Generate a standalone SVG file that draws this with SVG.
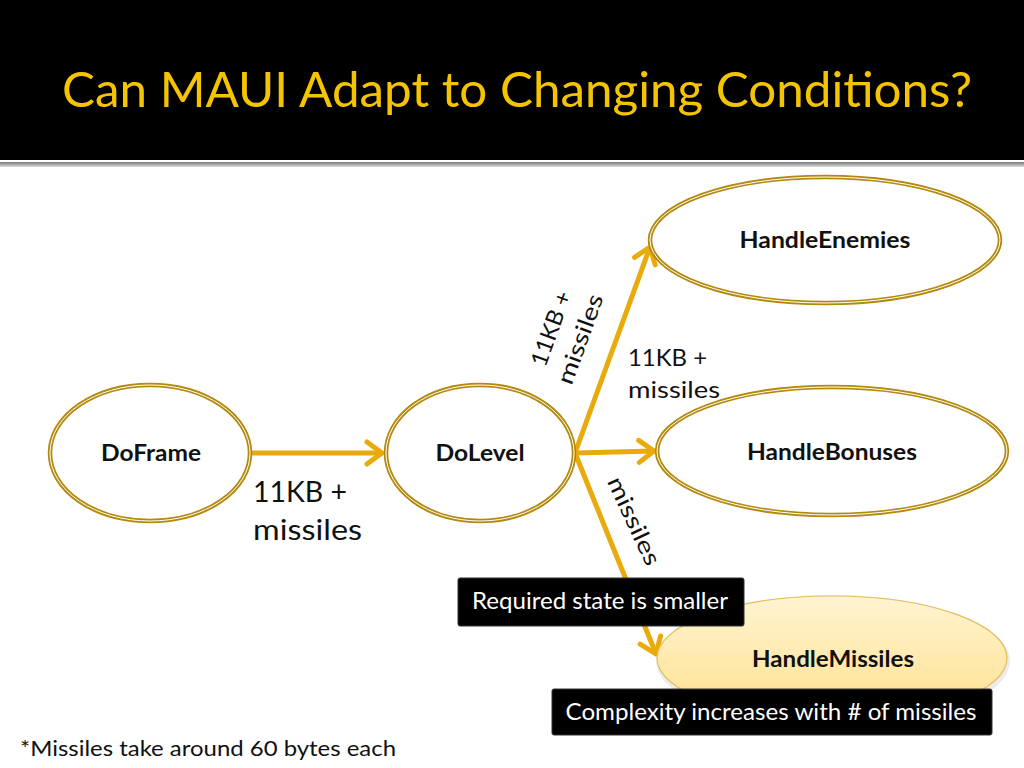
<svg xmlns="http://www.w3.org/2000/svg" width="1024" height="768" viewBox="0 0 1024 768">
<defs>
<style>
.node{fill:#fff;stroke:#B38A0E;stroke-width:4.5}
.inner{fill:none;stroke:#fff;stroke-width:1}
.ntext{font-family:Lato,"Open Sans",sans-serif;font-weight:bold;font-size:23px;fill:#111;text-anchor:middle}
.lbl{font-family:Lato,"Open Sans",sans-serif;fill:#111}
.conn{stroke:#E9AA0B;stroke-width:5;fill:none;marker-end:url(#arr)}
.box{fill:#000;stroke:#333;stroke-width:1}
.btext{font-family:Lato,"Open Sans",sans-serif;font-size:23px;fill:#fff;text-anchor:middle}
</style>
<marker id="arr" viewBox="0 0 30 30" refX="26" refY="15" markerWidth="30" markerHeight="30" markerUnits="userSpaceOnUse" orient="auto">
<path d="M11,4 L26,15 L11,26" fill="none" stroke="#E9AA0B" stroke-width="5" stroke-linecap="round" stroke-linejoin="round"/>
</marker>
<linearGradient id="mg" x1="0" y1="0" x2="0" y2="1">
<stop offset="0" stop-color="#FFF4D2"/>
<stop offset="1" stop-color="#FFE08C"/>
</linearGradient>
<linearGradient id="hl" x1="0" y1="0" x2="0" y2="1">
<stop offset="0" stop-color="#777"/>
<stop offset="1" stop-color="#ddd"/>
</linearGradient>
</defs>
<rect x="0" y="0" width="1024" height="768" fill="#fff"/>
<g id="header">
<rect x="0" y="0" width="1024" height="160" fill="#000"/>
<rect x="0" y="162" width="1024" height="5" fill="url(#hl)"/>
<text x="62" y="107" font-family="Lato,'Open Sans',sans-serif" font-size="48" fill="#F5C400" textLength="910" lengthAdjust="spacingAndGlyphs">Can MAUI Adapt to Changing Conditions?</text>
</g>
<g id="connectors">
<line class="conn" x1="251" y1="453" x2="382" y2="453"/>
<line class="conn" x1="575" y1="453" x2="650" y2="247"/>
<line class="conn" x1="575" y1="453" x2="654" y2="451"/>
<line class="conn" x1="575" y1="453" x2="656" y2="654"/>
</g>
<g id="DoFrame">
<ellipse class="node" cx="150" cy="453" rx="100" ry="68"/>
<ellipse class="inner" cx="150" cy="453" rx="100" ry="68"/>
<text class="ntext" x="151" y="461" textLength="100" lengthAdjust="spacingAndGlyphs">DoFrame</text>
</g>
<g id="DoLevel">
<ellipse class="node" cx="480" cy="453" rx="94" ry="68"/>
<ellipse class="inner" cx="480" cy="453" rx="94" ry="68"/>
<text class="ntext" x="480" y="461" textLength="89" lengthAdjust="spacingAndGlyphs">DoLevel</text>
</g>
<g id="HandleEnemies">
<ellipse class="node" cx="825" cy="240" rx="175" ry="63"/>
<ellipse class="inner" cx="825" cy="240" rx="175" ry="63"/>
<text class="ntext" x="825" y="248" textLength="171" lengthAdjust="spacingAndGlyphs">HandleEnemies</text>
</g>
<g id="HandleBonuses">
<ellipse class="node" cx="832" cy="451" rx="175" ry="64"/>
<ellipse class="inner" cx="832" cy="451" rx="175" ry="64"/>
<text class="ntext" x="832" y="460" textLength="170" lengthAdjust="spacingAndGlyphs">HandleBonuses</text>
</g>
<g id="HandleMissiles">
<ellipse cx="833" cy="661" rx="177" ry="66" fill="#000" opacity="0.08"/>
<ellipse cx="832" cy="658" rx="175" ry="62" fill="url(#mg)" stroke="#E6BE5A" stroke-width="1.2"/>
<text class="ntext" x="833" y="667" textLength="162" lengthAdjust="spacingAndGlyphs">HandleMissiles</text>
</g>
<g id="labels">
<text class="lbl" font-size="28" x="253" y="502" textLength="94" lengthAdjust="spacingAndGlyphs">11KB +</text>
<text class="lbl" font-size="28" x="253" y="540" textLength="109" lengthAdjust="spacingAndGlyphs">missiles</text>
<text class="lbl" font-size="23" x="628" y="366" textLength="79" lengthAdjust="spacingAndGlyphs">11KB +</text>
<text class="lbl" font-size="23" x="628" y="398" textLength="92" lengthAdjust="spacingAndGlyphs">missiles</text>
<g transform="translate(566,334) rotate(-70)">
<text class="lbl" font-size="23" x="0" y="-8" text-anchor="middle" textLength="78" lengthAdjust="spacingAndGlyphs">11KB +</text>
<text class="lbl" font-size="23" x="0" y="23" text-anchor="middle" textLength="94" lengthAdjust="spacingAndGlyphs">missiles</text>
</g>
<g transform="translate(634,521) rotate(65)">
<text class="lbl" font-size="23" x="0" y="8" text-anchor="middle" textLength="95" lengthAdjust="spacingAndGlyphs">missiles</text>
</g>
</g>
<g id="note-required">
<rect class="box" x="458" y="578" width="286" height="48" rx="2"/>
<text class="btext" x="600" y="609" textLength="256" lengthAdjust="spacingAndGlyphs">Required state is smaller</text>
</g>
<g id="note-complexity">
<rect class="box" x="552" y="689" width="440" height="46" rx="2"/>
<text class="btext" x="771" y="720" textLength="411" lengthAdjust="spacingAndGlyphs">Complexity increases with # of missiles</text>
</g>
<text class="lbl" font-size="22" x="20" y="756" textLength="376" lengthAdjust="spacingAndGlyphs">*Missiles take around 60 bytes each</text>
</svg>
